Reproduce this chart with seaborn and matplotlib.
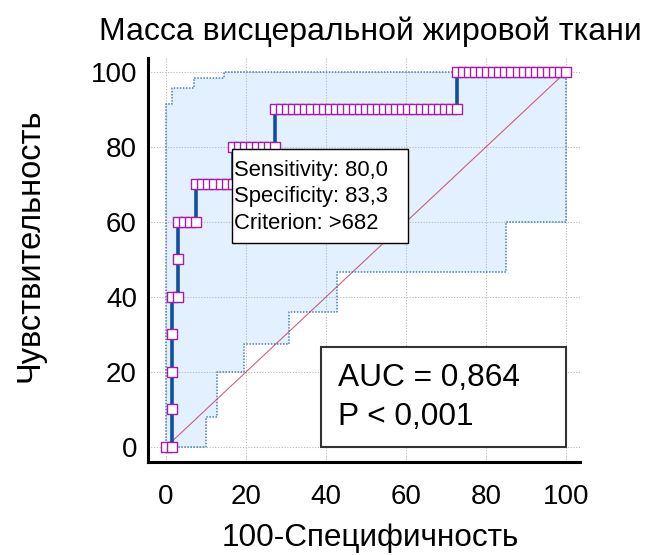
import numpy as np
import matplotlib
matplotlib.use("Agg")
import matplotlib.pyplot as plt
import seaborn as sns
from matplotlib.patches import Rectangle

# ---------------- data ----------------
title = "Масса висцеральной жировой ткани"
xlabel = "100-Специфичность"
ylabel = "Чувствительность"

# ROC points: 100-Specificity (x) and Sensitivity (y)
roc_fpr = [0.00, 1.52, 1.52, 1.52, 1.52, 1.52, 3.03, 3.03, 3.03, 4.55, 6.06, 7.58,
           7.58, 9.09, 10.61, 12.12, 13.64, 15.15, 16.67,
           16.67, 18.18, 19.70, 21.21, 22.73, 24.24, 25.76, 27.27,
           27.27, 28.79, 30.30, 31.82, 33.33, 34.85, 36.36, 37.88, 39.39, 40.91,
           42.42, 43.94, 45.45, 46.97, 48.48, 50.00, 51.52, 53.03, 54.55, 56.06,
           57.58, 59.09, 60.61, 62.12, 63.64, 65.15, 66.67, 68.18, 69.70, 71.21, 72.73,
           72.73, 74.24, 75.76, 77.27, 78.79, 80.30, 81.82, 83.33, 84.85, 86.36,
           87.88, 89.39, 90.91, 92.42, 93.94, 95.45, 96.97, 98.48, 100.00]
roc_sens = [0, 0, 10, 20, 30, 40, 40, 50, 60, 60, 60, 60,
            70, 70, 70, 70, 70, 70, 70,
            80, 80, 80, 80, 80, 80, 80, 80,
            90, 90, 90, 90, 90, 90, 90, 90, 90, 90,
            90, 90, 90, 90, 90, 90, 90, 90, 90, 90,
            90, 90, 90, 90, 90, 90, 90, 90, 90, 90, 90,
            100, 100, 100, 100, 100, 100, 100, 100, 100, 100,
            100, 100, 100, 100, 100, 100, 100, 100, 100]

# 95% confidence bounds (step functions, value holds from x to next x)
ci_upper_x = [0.0, 0.0, 1.5, 7.0, 14.5, 100.0]
ci_upper_y = [0.0, 91.4, 95.7, 98.5, 100.0, 100.0]
ci_lower_x = [0.0, 10.0, 12.7, 19.6, 30.8, 42.7, 85.0, 100.0]
ci_lower_y = [0.0, 8.1, 19.9, 27.4, 36.1, 46.7, 60.0, 100.0]

ticks = [0, 20, 40, 60, 80, 100]
opt_lines = ["Sensitivity: 80,0", "Specificity: 83,3", "Criterion: >682"]
auc_lines = ["AUC = 0,864", "P < 0,001"]

# ---------------- style ----------------
sns.set_theme(style="white")
plt.rcParams["font.family"] = ["Liberation Sans", "DejaVu Sans"]
plt.rcParams["text.color"] = "black"
plt.rcParams["axes.labelcolor"] = "black"
plt.rcParams["xtick.color"] = "black"
plt.rcParams["ytick.color"] = "black"

fig = plt.figure(figsize=(6.51, 5.55), dpi=100)
ax = fig.add_axes([148 / 651, 1 - 462 / 555, 432 / 651, 404 / 555])
ax.set_xlim(-4.5, 103.5)
ax.set_ylim(-4.0, 103.7)

# CI band fill
def step_vals(xs, ys, grid):
    xs = np.asarray(xs)
    ys = np.asarray(ys)
    idx = np.searchsorted(xs, grid, side="right") - 1
    idx = np.clip(idx, 0, len(ys) - 1)
    return ys[idx]

grid = np.unique(np.concatenate([ci_upper_x, ci_lower_x]))
lo = step_vals(ci_lower_x, ci_lower_y, grid)
hi = step_vals(ci_upper_x, ci_upper_y, grid)
ax.fill_between(grid, lo, hi, step="post", color="#e2f0ff", lw=0, zorder=0.2)
ax.step(ci_upper_x, ci_upper_y, where="post", color="#4a7fc0", lw=1.1,
        ls=(0, (1, 1)), zorder=1)
ax.step(ci_lower_x, ci_lower_y, where="post", color="#4a7fc0", lw=1.1,
        ls=(0, (1, 1)), zorder=1)

# grid
for t in ticks:
    ax.axvline(t, color="#b8b8b8", lw=0.8, ls=(0, (1, 1.5)), zorder=0.6)
    ax.axhline(t, color="#b8b8b8", lw=0.8, ls=(0, (1, 1.5)), zorder=0.6)

# diagonal reference line
ax.plot([0, 100], [0, 100], color="#c03050", lw=0.8, alpha=0.75, zorder=1.5)

# ROC curve
sns.lineplot(x=roc_fpr, y=roc_sens, sort=False, estimator=None, ax=ax,
             color="#114f9e", lw=2.6, zorder=2)
sns.scatterplot(x=roc_fpr, y=roc_sens, ax=ax, marker="s", s=60,
                facecolor="white", edgecolor="#a81ca8", linewidth=1.0, zorder=3)

# optimal criterion box
ax.add_patch(Rectangle((16.5, 54.4), 44.0, 25.1, fc="white", ec="black",
                       lw=1.0, zorder=4))
for line, yy in zip(opt_lines, [73.6, 66.7, 59.5]):
    ax.text(16.9, yy, line, fontsize=15.8, ha="left", va="center", zorder=5,
            color="black")

# AUC box
ax.add_patch(Rectangle((38.75, 0.0), 61.25, 26.6, fc="white", ec="#333333",
                       lw=1.5, zorder=4))
for line, yy in zip(auc_lines, [18.4, 8.0]):
    ax.text(43.0, yy, line, fontsize=22.8, ha="left", va="center", zorder=5,
            color="black")

# axes, ticks
for s in ["top", "right"]:
    ax.spines[s].set_visible(False)
for s in ["left", "bottom"]:
    ax.spines[s].set_color("black")
    ax.spines[s].set_linewidth(2.2)
    ax.spines[s].set_zorder(6)
ax.set_xticks(ticks)
ax.set_yticks(ticks)
ax.set_xticklabels([str(t) for t in ticks])
ax.set_yticklabels([str(t) for t in ticks])
ax.tick_params(axis="both", which="major", direction="in", length=10.5,
               width=1.2, color="#333333", labelsize=20, labelcolor="black")
ax.tick_params(axis="both", which="minor", direction="in", length=5,
               width=1.0, color="#333333")
ax.tick_params(axis="x", which="major", pad=16)
ax.tick_params(axis="y", which="major", pad=8)
ax.xaxis.set_minor_locator(matplotlib.ticker.FixedLocator(
    [v for v in np.arange(5, 100, 5) if v % 20]))
ax.yaxis.set_minor_locator(matplotlib.ticker.FixedLocator(
    [v for v in np.arange(5, 100, 5) if v % 20]))

ax.set_xlabel(xlabel, fontsize=22.7, va="baseline", color="black")
ax.xaxis.set_label_coords(0.514, -0.208)
ax.set_ylabel(ylabel, fontsize=23.5, va="center", color="black")
ax.yaxis.set_label_coords(-0.272, 0.537)
ax.text(0.514, 1.0446, title, transform=ax.transAxes, ha="center",
        va="baseline", fontsize=23, color="black")

fig.savefig("out.png", dpi=100)
